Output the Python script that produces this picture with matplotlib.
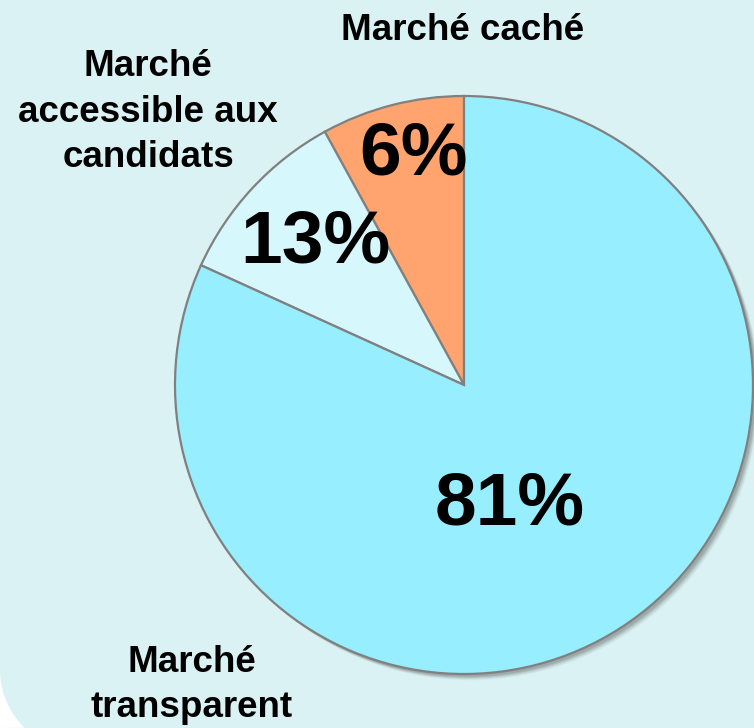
import numpy as np
import matplotlib.pyplot as plt
from matplotlib.patches import Circle, Polygon, Rectangle

plt.rcParams['font.family'] = ['Liberation Sans', 'DejaVu Sans']

# wedge shares as drawn (the printed labels are rounded differently)
segments = ["Marché caché", "Marché accessible aux candidats", "Marché transparent"]
shares = [8.0, 10.2, 81.8]
pct_labels = ["6%", "13%", "81%"]
colors = ["#ffa46f", "#d6f8fd", "#97eefe"]

W, H = 754, 728
bg = "#daf2f3"
fig = plt.figure(figsize=(W / 100, H / 100), dpi=100)
fig.patch.set_facecolor(bg)
ax = fig.add_axes([0, 0, 1, 1])

# panel background + white corner bottom-left (rounded panel edge)
ax.add_patch(Rectangle((0, 0), W, H, facecolor=bg, edgecolor="none", zorder=-1))
t = np.linspace(np.pi, 1.5 * np.pi, 40)
R = 80
arc = np.column_stack([R + R * np.cos(t), (H - 670) + R * np.sin(t)])
arc = arc[arc[:, 1] >= -1]
corner = np.vstack([[0, H - 670], arc, [0, 0]])
ax.add_patch(Polygon(corner, closed=True, facecolor="white", edgecolor="none", zorder=0))

cx, cy, r = 464, H - 385, 289

# soft shadow
for k, a in zip(range(6, 0, -1), [0.05, 0.06, 0.08, 0.10, 0.12, 0.15]):
    ax.add_patch(Circle((cx + 2 + k * 0.7, cy - 2 - k * 0.7), r, facecolor="#555555",
                        edgecolor="none", alpha=a, zorder=1))

wedges, _ = ax.pie(shares, colors=colors, startangle=90, counterclock=True,
                   center=(cx, cy), radius=r, frame=True,
                   wedgeprops=dict(edgecolor="#808080", linewidth=1.6))
for w in wedges:
    w.set_zorder(2)
ax.set_xlim(0, W)
ax.set_ylim(0, H)
ax.set_aspect("equal")
ax.axis("off")

big = dict(fontsize=54, fontweight="bold", ha="center", va="center", zorder=5)
ax.text(413, H - 155, pct_labels[0], **big)
ax.text(315, H - 243, pct_labels[1], **big)
ax.text(510, H - 505, pct_labels[2], **big)

small = dict(fontsize=26.5, fontweight="bold", ha="center", va="center", zorder=5, linespacing=1.4)
ax.text(463, H - 30, "Marché caché", **small)
ax.text(148, H - 112, "Marché\naccessible aux\ncandidats", **small)
ax.text(192, H - 685, "Marché\ntransparent", **small)

fig.savefig("out.png", dpi=100, facecolor=fig.get_facecolor())
